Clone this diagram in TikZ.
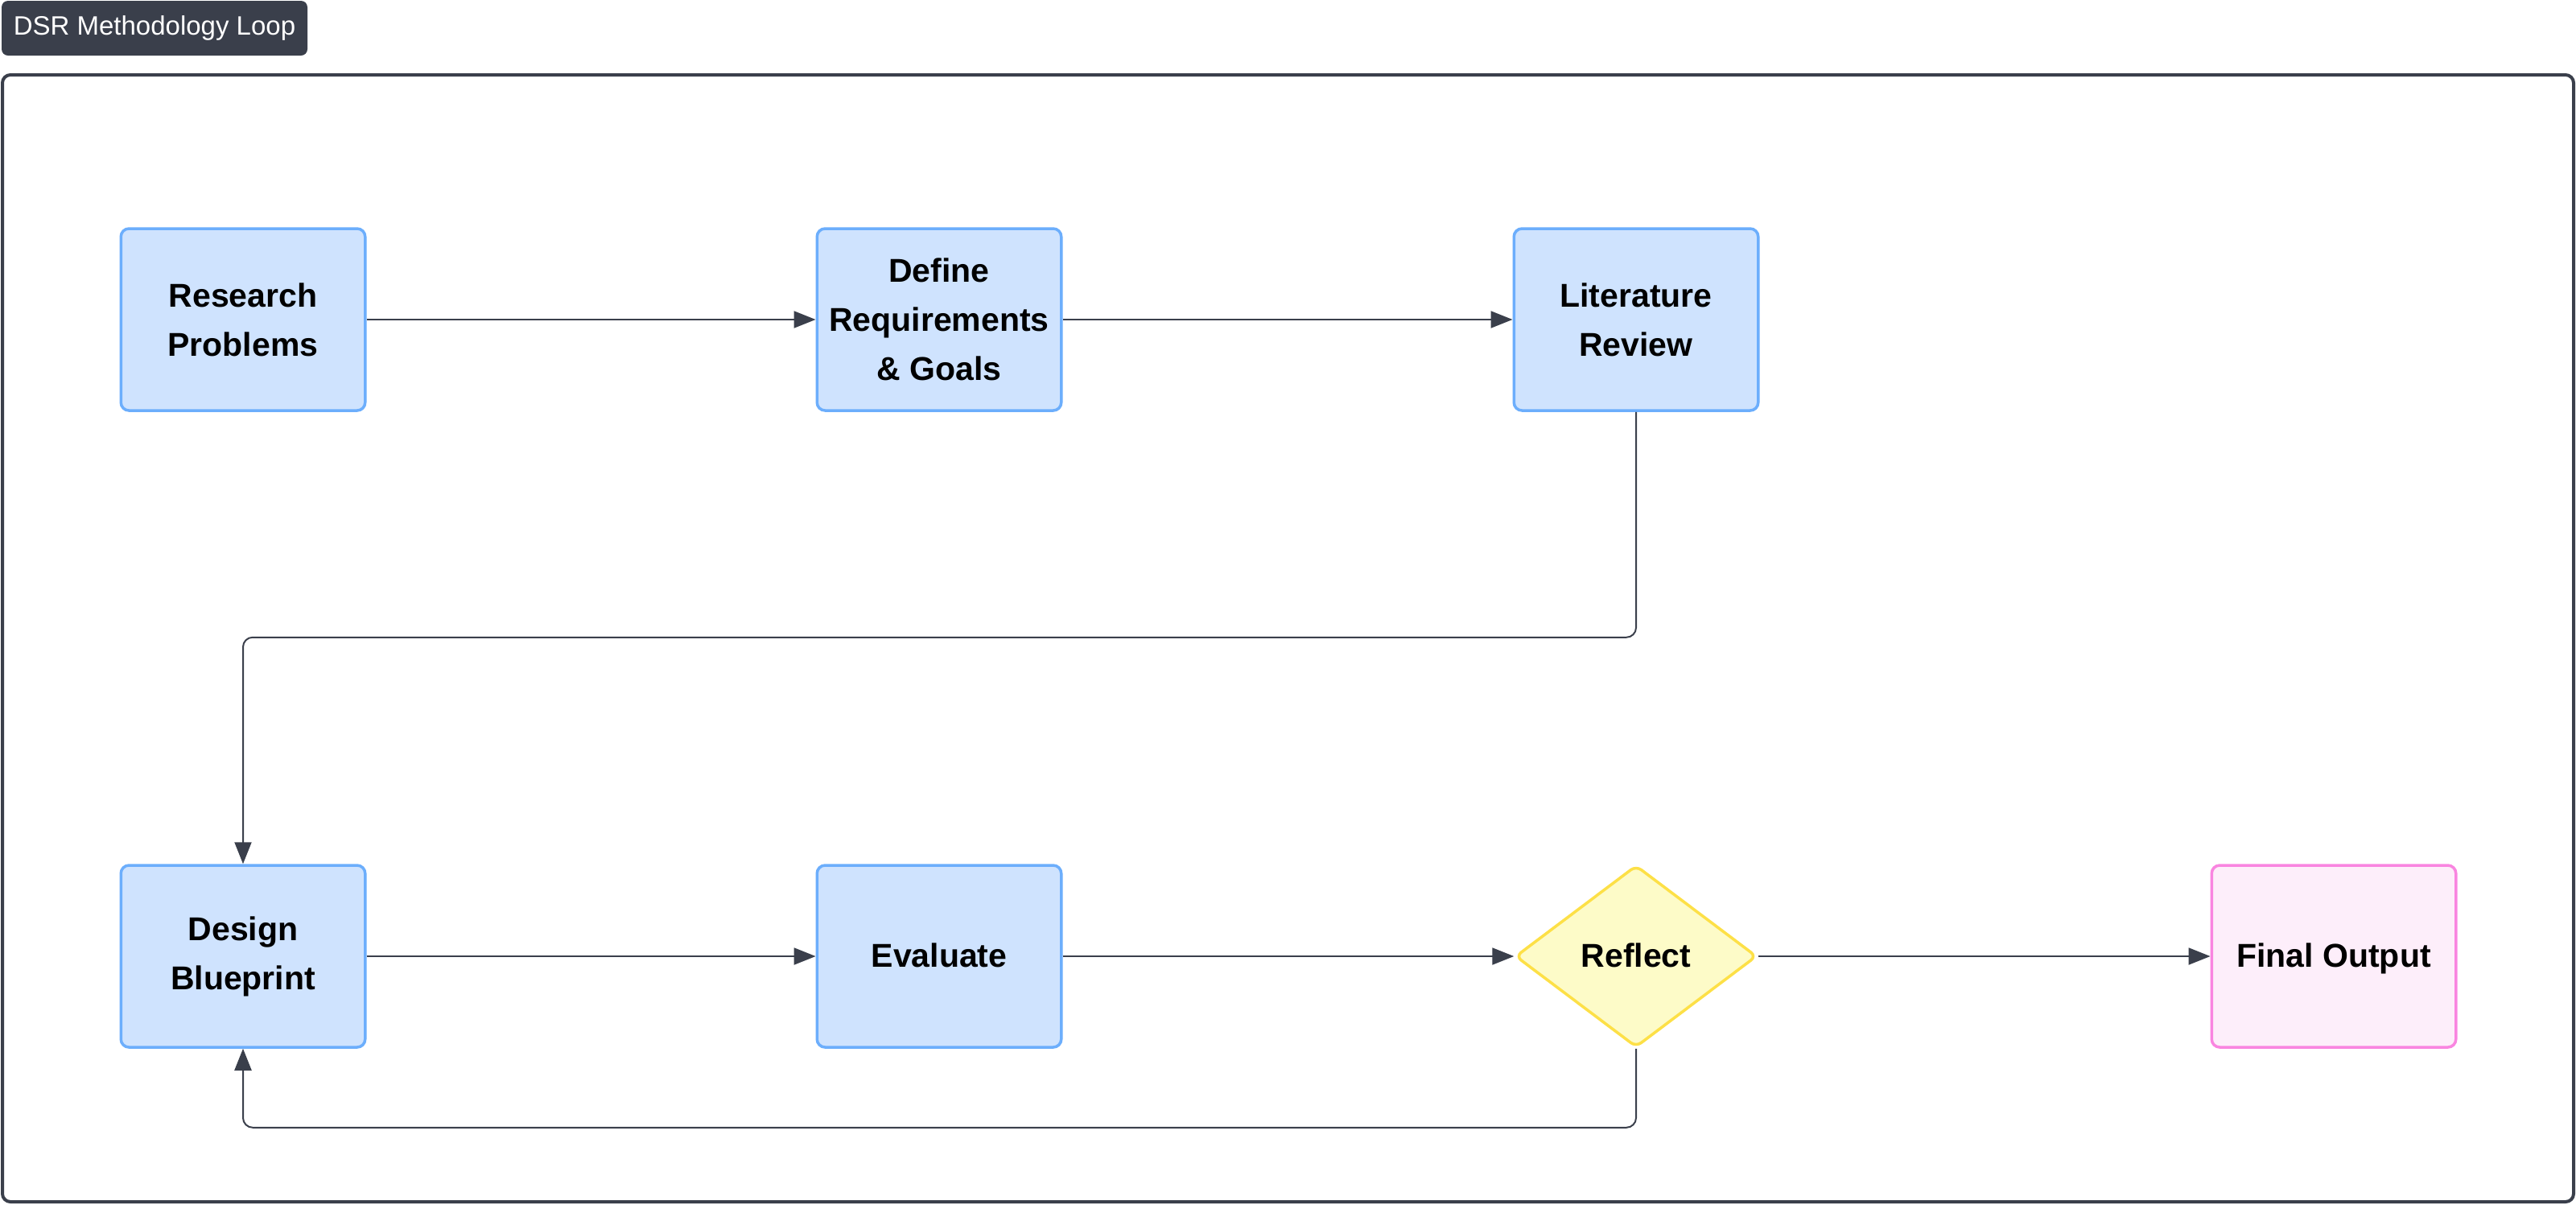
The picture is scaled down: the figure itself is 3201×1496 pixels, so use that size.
\documentclass[tikz,border=0pt]{standalone}
\usepackage{fontspec}
\setmainfont{Liberation Sans}
\usetikzlibrary{arrows.meta,shapes.geometric}
\definecolor{darkline}{RGB}{58,63,75}
\definecolor{bfill}{RGB}{207,227,254}
\definecolor{bstroke}{RGB}{108,174,252}
\definecolor{yfill}{RGB}{253,251,200}
\definecolor{ystroke}{RGB}{253,224,71}
\definecolor{pfill}{RGB}{253,238,250}
\definecolor{pstroke}{RGB}{249,133,224}
\begin{document}
\begin{tikzpicture}[x=0.5pt,y=-0.5pt,
  nodetext/.style={align=center, font=\fontsize{20.5}{30.5}\selectfont\bfseries, text=black, inner sep=0pt},
  oneline/.style={text height=13pt, text depth=0pt},
  box/.style={nodetext, rectangle, draw=bstroke, fill=bfill, line width=1.75pt, rounded corners=5pt,
    minimum width=151.75pt, minimum height=113pt},
  finalbox/.style={box, draw=pstroke, fill=pfill},
  decision/.style={nodetext, diamond, draw=ystroke, fill=yfill, line width=1.75pt, rounded corners=4pt,
    aspect=1.333, minimum width=150pt, minimum height=113pt},
  conn/.style={draw=darkline, line width=1pt, -{Triangle[length=13.5pt,width=10.5pt]}},
  frame/.style={draw=darkline, line width=2pt, rounded corners=5pt},
  titlebox/.style={fill=darkline, rounded corners=4pt, text=white, font=\fontsize{16.5}{19}\selectfont,
    minimum width=190pt, minimum height=34pt, inner sep=0pt}
]
\useasboundingbox (0,0) rectangle (3201,1496);

% outer frame
\draw[frame] (3,93) rectangle (3198,1493);
\node[titlebox] (title) at (192,35) {DSR Methodology Loop};

% nodes
\node[box] (rp)  at (302,397)  {Research\\Problems};
\node[box] (def) at (1167,397) {Define\\Requirements\\\& Goals};
\node[box] (lit) at (2033,397) {Literature\\Review};
\node[box] (des) at (302,1188) {Design\\Blueprint};
\node[box, oneline] (eva) at (1167,1188) {Evaluate};
\node[decision, oneline] (ref) at (2033,1188) {Reflect};
\node[finalbox, oneline] (fin) at (2900,1188) {Final Output};

% connectors
\draw[conn] (rp.east) -- (def.west);
\draw[conn] (def.east) -- (lit.west);
\draw[conn, rounded corners=6pt] (lit.south) -- ++(0,280) -| (des.north);
\draw[conn] (des.east) -- (eva.west);
\draw[conn] (eva.east) -- (ref.west);
\draw[conn] (ref.east) -- (fin.west);
\draw[conn, rounded corners=6pt] (ref.south) -- ++(0,98) -| (des.south);
\end{tikzpicture}
\end{document}
